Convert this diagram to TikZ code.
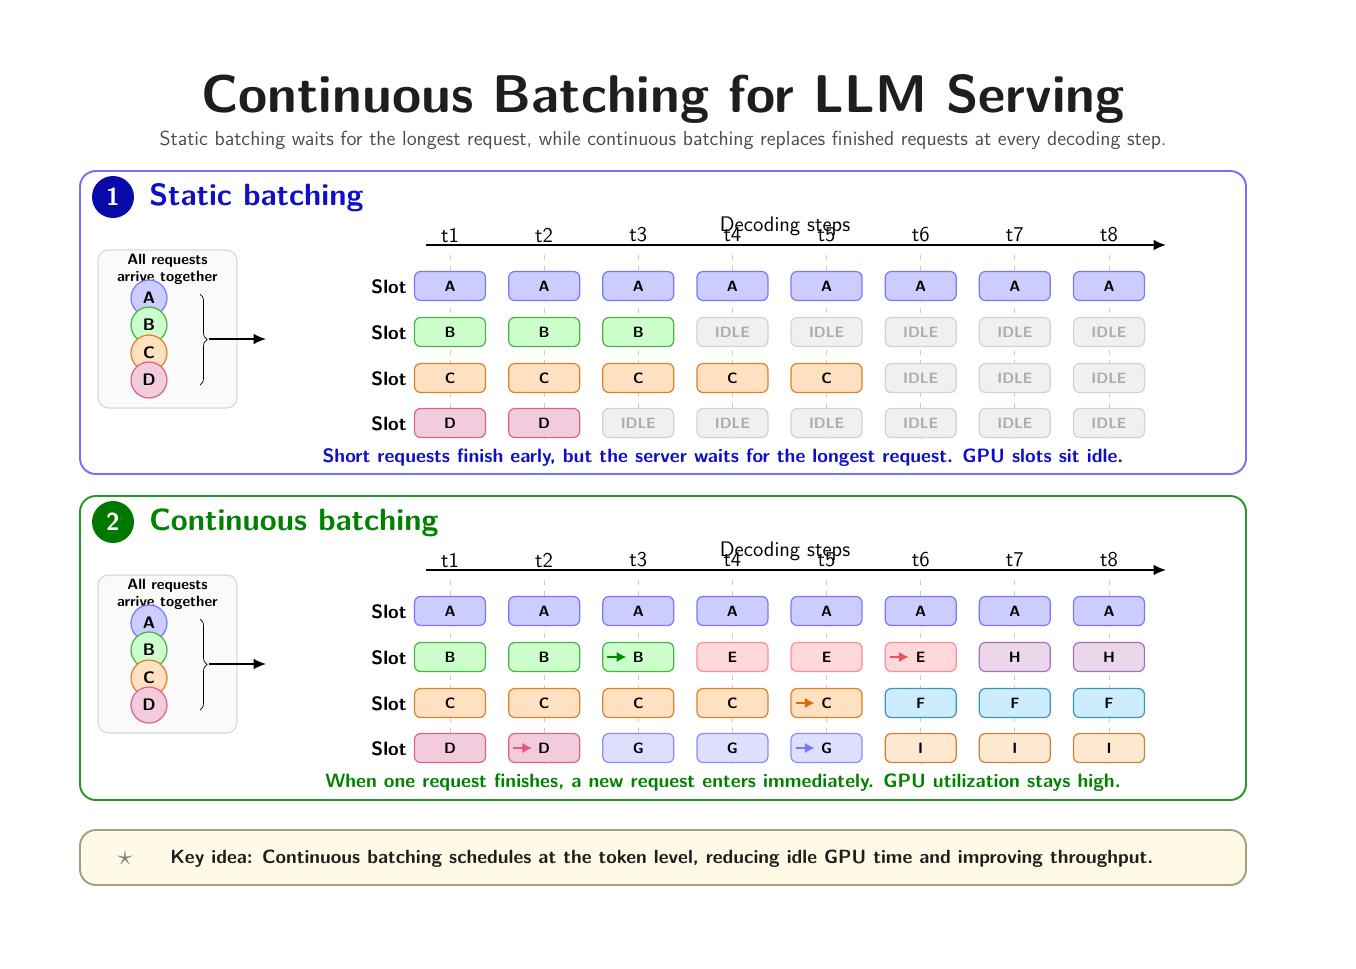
\documentclass[tikz,border=0pt]{standalone}
\usepackage{tikz}
\usetikzlibrary{arrows.meta,decorations.pathreplacing,positioning}
\renewcommand{\familydefault}{\sfdefault}
\definecolor{titlegray}{RGB}{30,30,30}
\definecolor{subgray}{RGB}{75,75,75}
\definecolor{panelblue}{RGB}{115,115,250}
\definecolor{panelgreen}{RGB}{40,150,40}
\definecolor{headblue}{RGB}{15,15,200}
\definecolor{headgreen}{RGB}{0,130,0}
\definecolor{dotblue}{RGB}{10,10,170}
\definecolor{dotgreen}{RGB}{0,120,0}
\definecolor{keyfill}{RGB}{255,250,230}
\definecolor{keyline}{RGB}{165,160,120}
\definecolor{fillA}{RGB}{204,204,255}\definecolor{lineA}{RGB}{120,120,255}
\definecolor{fillB}{RGB}{204,255,204}\definecolor{lineB}{RGB}{70,180,70}
\definecolor{fillC}{RGB}{255,224,192}\definecolor{lineC}{RGB}{220,130,40}
\definecolor{fillD}{RGB}{242,204,220}\definecolor{lineD}{RGB}{220,100,140}
\definecolor{fillE}{RGB}{255,216,220}\definecolor{lineE}{RGB}{255,140,150}
\definecolor{fillF}{RGB}{204,236,255}\definecolor{lineF}{RGB}{60,150,180}
\definecolor{fillG}{RGB}{222,222,255}\definecolor{lineG}{RGB}{140,140,255}
\definecolor{fillH}{RGB}{234,216,234}\definecolor{lineH}{RGB}{170,110,190}
\definecolor{fillI}{RGB}{255,232,208}\definecolor{lineI}{RGB}{200,130,60}
\definecolor{markB}{RGB}{0,140,0}
\definecolor{markC}{RGB}{210,110,20}
\definecolor{markD}{RGB}{230,90,130}
\definecolor{markE}{RGB}{240,80,90}
\definecolor{markG}{RGB}{120,120,255}

\tikzset{
  colA/.style={fill=fillA,draw=lineA}, colB/.style={fill=fillB,draw=lineB},
  colC/.style={fill=fillC,draw=lineC}, colD/.style={fill=fillD,draw=lineD},
  colE/.style={fill=fillE,draw=lineE}, colF/.style={fill=fillF,draw=lineF},
  colG/.style={fill=fillG,draw=lineG}, colH/.style={fill=fillH,draw=lineH},
  colI/.style={fill=fillI,draw=lineI},
  idle/.style={fill=gray!12,draw=gray!35,text=gray!65},
  cell/.style={rounded corners=3.5pt,minimum width=1.42cm,minimum height=0.58cm,
    inner sep=0pt,line width=0.7pt,font=\sffamily\bfseries\fontsize{8.5}{10}\selectfont},
  reqcirc/.style={circle,minimum size=0.72cm,inner sep=0pt,line width=0.7pt,
    font=\sffamily\bfseries\fontsize{9.5}{10}\selectfont},
  inbox/.style={rounded corners=6pt,fill=gray!4,draw=gray!30,line width=0.7pt,
    minimum width=2.78cm,minimum height=3.16cm},
  intext/.style={align=center,inner sep=0pt,font=\sffamily\bfseries\fontsize{8.5}{9.6}\selectfont},
  tlabel/.style={font=\sffamily\fontsize{12}{14}\selectfont,inner sep=0pt},
  guide/.style={gray!40,dashed,line width=0.5pt},
  axis/.style={-{Latex[length=7pt,width=6pt]},line width=0.9pt},
  slotlabel/.style={anchor=east,inner sep=0pt,font=\sffamily\bfseries\fontsize{11}{13}\selectfont},
  panel/.style={rounded corners=9pt,line width=1.1pt},
  numdot/.style={circle,minimum size=0.84cm,inner sep=0pt,text=white,
    font=\sffamily\bfseries\fontsize{14}{16}\selectfont},
  ptitle/.style={anchor=west,inner sep=0pt,font=\sffamily\bfseries\fontsize{17.5}{21}\selectfont},
  caption/.style={inner sep=0pt,font=\sffamily\bfseries\fontsize{11}{13}\selectfont},
  newreq/.style={-{Latex[length=5.5pt,width=6pt]},line width=1.2pt}
}

\begin{document}
\begin{tikzpicture}[x=0.02cm,y=-0.02cm]
  \useasboundingbox (0,0) rectangle (1356,968);

  % heading
  \node[text=titlegray,font=\sffamily\bfseries\fontsize{30.2}{35}\selectfont] (title) at (663,99) {Continuous Batching for LLM Serving};
  \node[text=subgray,font=\sffamily\fontsize{11.55}{13}\selectfont] (subtitle) at (663,140) {Static batching waits for the longest request, while continuous batching replaces finished requests at every decoding step.};

  % panel frames
  \draw[panel,draw=panelblue] (80,171) rectangle (1246,474);
  \draw[panel,draw=panelgreen] (80,496) rectangle (1246,800);
  \node[numdot,fill=dotblue] (s-num) at (113,197) {1};
  \node[ptitle,text=headblue] (s-title) at (149,198) {Static batching};
  \node[numdot,fill=dotgreen] (c-num) at (113,522) {2};
  \node[ptitle,text=headgreen] (c-title) at (149,523) {Continuous batching};

  % parts both panels share
  \foreach \p/\dy in {s/0,c/325} {
    \begin{scope}[shift={(0,\dy)}]
      \node[inbox] (\p-box) at (167.5,329) {};
      \node[intext] (\p-intxt) at (167.5,269) {All requests\\arrive together};
      \foreach \q/\qy in {A/298,B/325,C/353,D/380}
        \node[reqcirc,col\q] (\p-q\q) at (149,\qy) {\q};
      \draw[decorate,decoration={brace,amplitude=4pt}] (200,294) -- (200,385);
      \coordinate (\p-tip) at (209,339);
      \coordinate (\p-go) at (266,339);
      \draw[-{Latex[length=7pt,width=6pt]},line width=0.9pt] (\p-tip) -- (\p-go);
      % time axis
      \coordinate (\p-ax0) at (426,245);
      \coordinate (\p-ax1) at (1166,245);
      \draw[axis] (\p-ax0) -- (\p-ax1);
      \foreach \c in {1,...,8} {
        \draw[guide] ({450+94.14*(\c-1)},255) -- ({450+94.14*(\c-1)},440);
        \node[tlabel] (\p-t\c) at ({450+94.14*(\c-1)},235) {t\c};
      }
      \node[tlabel] (\p-axlbl) at (785,226) {Decoding steps};
      \foreach \r/\ry in {1/287,2/333,3/379,4/424}
        \node[slotlabel] (\p-slot\r) at (407,\ry) {Slot};
    \end{scope}
  }

  % static batching slots
  \foreach \r/\ry/\row in {
      1/286/{colA/A,colA/A,colA/A,colA/A,colA/A,colA/A,colA/A,colA/A},
      2/332/{colB/B,colB/B,colB/B,idle/IDLE,idle/IDLE,idle/IDLE,idle/IDLE,idle/IDLE},
      3/378/{colC/C,colC/C,colC/C,colC/C,colC/C,idle/IDLE,idle/IDLE,idle/IDLE},
      4/423/{colD/D,colD/D,idle/IDLE,idle/IDLE,idle/IDLE,idle/IDLE,idle/IDLE,idle/IDLE}}
    \foreach \st/\tx [count=\c] in \row
      \node[cell,\st] (s-r\r-t\c) at ({450+94.14*(\c-1)},\ry) {\tx};
  \node[caption,text=headblue] (s-cap) at (723,458) {Short requests finish early, but the server waits for the longest request. GPU slots sit idle.};

  % continuous batching slots
  \foreach \r/\ry/\row in {
      1/611/{colA/A,colA/A,colA/A,colA/A,colA/A,colA/A,colA/A,colA/A},
      2/657/{colB/B,colB/B,colB/B,colE/E,colE/E,colE/E,colH/H,colH/H},
      3/703/{colC/C,colC/C,colC/C,colC/C,colC/C,colF/F,colF/F,colF/F},
      4/748/{colD/D,colD/D,colG/G,colG/G,colG/G,colI/I,colI/I,colI/I}}
    \foreach \st/\tx [count=\c] in \row
      \node[cell,\st] (c-r\r-t\c) at ({450+94.14*(\c-1)},\ry) {\tx};
  \foreach \cl/\nm in {markB/c-r2-t3,markD/c-r4-t2,markC/c-r3-t5,markG/c-r4-t5,markE/c-r2-t6}
    \draw[newreq,color=\cl] ([xshift=-0.62cm]\nm.center) -- ([xshift=-0.24cm]\nm.center);
  \node[caption,text=headgreen] (c-cap) at (723,783) {When one request finishes, a new request enters immediately. GPU utilization stays high.};

  % key idea
  \draw[panel,fill=keyfill,draw=keyline] (80,830) rectangle (1246,885);
  \node[text=gray,font=\fontsize{18}{18}\selectfont] (key-star) at (125,858) {$\star$};
  \node[anchor=west,inner sep=0pt,text=titlegray,font=\sffamily\bfseries\fontsize{10.9}{13}\selectfont] (key-text) at (170,859) {Key idea: Continuous batching schedules at the token level, reducing idle GPU time and improving throughput.};
\end{tikzpicture}
\end{document}
